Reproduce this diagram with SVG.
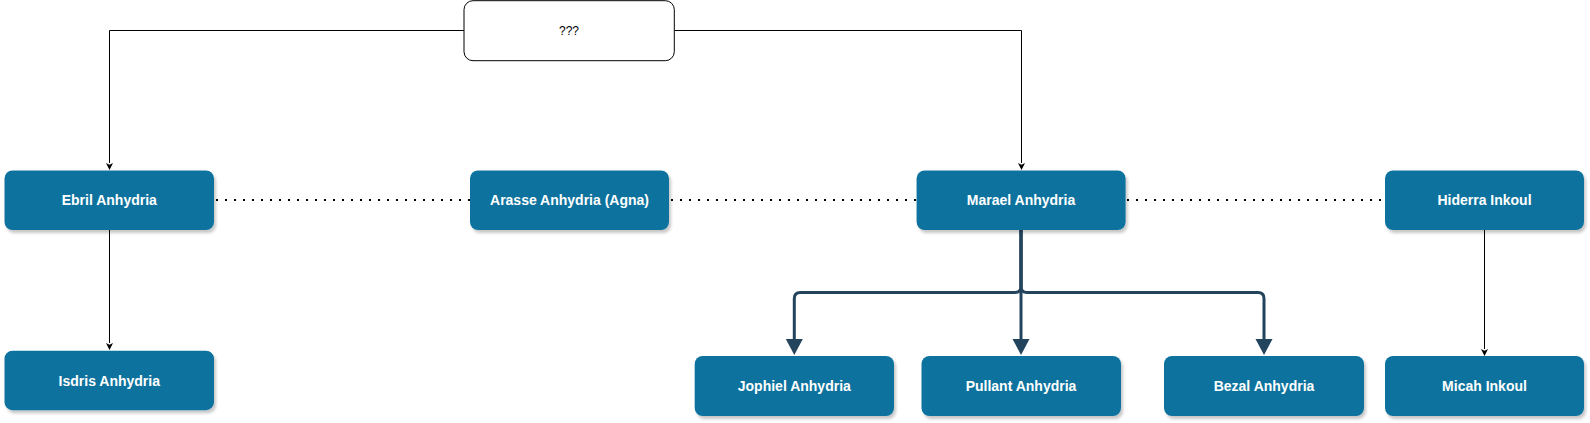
<svg xmlns="http://www.w3.org/2000/svg" width="1590" height="423" viewBox="0 0 1590 423">
<style>
.node rect{fill:#10739E;filter:url(#sh)}
.node text{fill:#fff;font-family:"Liberation Sans",Arial,sans-serif;font-weight:bold;font-size:14px;text-anchor:middle}
.thin{fill:none;stroke:#000;stroke-width:1;marker-end:url(#ah)}
.thick{fill:none;stroke:#23445D;stroke-width:3;marker-end:url(#bh)}
.dot{fill:none;stroke:#000;stroke-width:2;stroke-dasharray:2 7}
</style>
<defs>
<filter id="sh" x="-10%" y="-20%" width="120%" height="150%">
<feDropShadow dx="2" dy="3" stdDeviation="1.5" flood-color="#000" flood-opacity="0.22"/>
</filter>
<marker id="ah" markerUnits="userSpaceOnUse" markerWidth="8" markerHeight="8" refX="0" refY="3.5" orient="auto" overflow="visible">
<path d="M0,0 L7,3.5 L0,7 L1.8,3.5 z" fill="#000"/>
</marker>
<marker id="bh" markerUnits="userSpaceOnUse" markerWidth="17" markerHeight="17" refX="0" refY="8.5" orient="auto" overflow="visible">
<path d="M0,0 L16,8.5 L0,17 z" fill="#23445D"/>
</marker>
</defs>
<rect width="1590" height="423" fill="#fff"/>
<g id="connectors">
<path class="thin" d="M464,30.5 H109.5 V163"/>
<path class="thin" d="M674.5,30.5 H1021.5 V163"/>
<path class="thin" d="M109.5,230 V343"/>
<path class="thin" d="M1484.5,230 V349"/>
<path class="dot" d="M216,200 H470"/>
<path class="dot" d="M671,200 H916"/>
<path class="dot" d="M1127,200 H1385"/>
<path class="thick" d="M1021,230 V286.5 Q1021,292.5 1015,292.5 H800.3 Q794.3,292.5 794.3,298.5 V339"/>
<path class="thick" d="M1021,230 V339"/>
<path class="thick" d="M1021,230 V286.5 Q1021,292.5 1027,292.5 H1258 Q1264,292.5 1264,298.5 V339"/>
</g>
<g id="n-unknown">
<rect x="464" y="0.7" width="210.3" height="60" rx="9" fill="#fff" stroke="#000" stroke-width="1"/>
<text x="569" y="34.5" font-family="Liberation Sans,Arial,sans-serif" font-size="12" text-anchor="middle" fill="#000">???</text>
</g>
<g id="n-ebril" class="node"><rect x="4.5" y="170.5" width="209.5" height="59.5" rx="8"/><text x="109.3" y="205">Ebril Anhydria</text></g>
<g id="n-arasse" class="node"><rect x="470" y="170.5" width="199" height="59.5" rx="8"/><text x="569.5" y="205">Arasse Anhydria (Agna)</text></g>
<g id="n-marael" class="node"><rect x="916.6" y="170.5" width="209" height="59.5" rx="8"/><text x="1021" y="205">Marael Anhydria</text></g>
<g id="n-hiderra" class="node"><rect x="1385" y="170.5" width="199" height="59.5" rx="8"/><text x="1484.5" y="205">Hiderra Inkoul</text></g>
<g id="n-isdris" class="node"><rect x="4.5" y="350.7" width="209.5" height="59.5" rx="8"/><text x="109.3" y="385.5">Isdris Anhydria</text></g>
<g id="n-jophiel" class="node"><rect x="694.7" y="356" width="199.3" height="60" rx="8"/><text x="794.3" y="391">Jophiel Anhydria</text></g>
<g id="n-pullant" class="node"><rect x="921.5" y="356" width="199.5" height="60" rx="8"/><text x="1021" y="391">Pullant Anhydria</text></g>
<g id="n-bezal" class="node"><rect x="1164" y="356" width="200" height="60" rx="8"/><text x="1264" y="391">Bezal Anhydria</text></g>
<g id="n-micah" class="node"><rect x="1385" y="356" width="199" height="60" rx="8"/><text x="1484.5" y="391">Micah Inkoul</text></g>
</svg>
